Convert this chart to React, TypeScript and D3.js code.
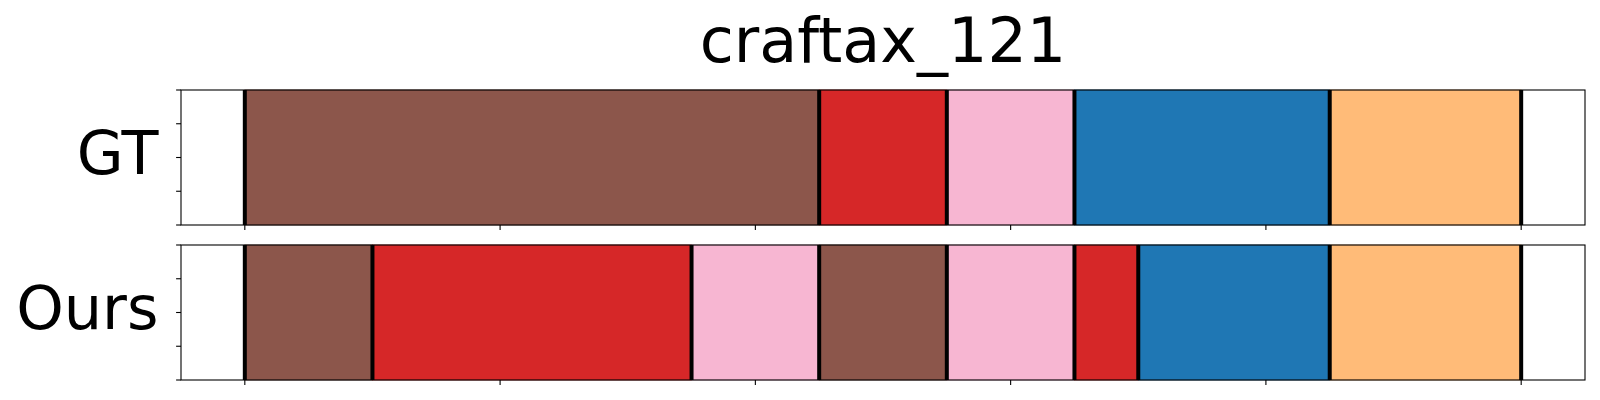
import { useEffect, useRef } from "react";
import * as d3 from "d3";

const rowLabels = ["GT", "Ours"];
const chartTitle = "craftax_121";

// segment boundaries (timesteps) and segment categories per row
const gtStarts = [0, 45, 55, 65, 85];
const gtEnds = [45, 55, 65, 85, 100];
const gtLabels = ["brown", "red", "pink", "blue", "orange"];

const oursStarts = [0, 10, 35, 45, 55, 65, 70, 85];
const oursEnds = [10, 35, 45, 55, 65, 70, 85, 100];
const oursLabels = ["brown", "red", "pink", "brown", "pink", "red", "blue", "orange"];

const xTicks = [0, 20, 40, 60, 80, 100];
const yTicks = [0, 0.25, 0.5, 0.75, 1];

const palette: Record<string, string> = {
  brown: "#8c564b",
  red: "#d62728",
  pink: "#f7b6d2",
  blue: "#1f77b4",
  orange: "#ffbb78",
};

function SegmentChart() {
  const ref = useRef<HTMLDivElement>(null);

  useEffect(() => {
    const container = d3.select(ref.current);
    container.selectAll("*").remove();

    const width = 1600;
    const height = 400;
    const left = 181;
    const right = 1585;
    const panels = [
      { top: 90, bottom: 225 },
      { top: 245, bottom: 380 },
    ];

    const svg = container
      .append("svg")
      .attr("width", width)
      .attr("height", height)
      .style("position", "absolute")
      .style("left", "0px")
      .style("top", "0px")
      .style("font-family", "'DejaVu Sans', sans-serif");

    const x = d3.scaleLinear().domain([-5, 105]).range([left, right]);

    const rows = [
      { starts: gtStarts, ends: gtEnds, labels: gtLabels },
      { starts: oursStarts, ends: oursEnds, labels: oursLabels },
    ];

    rows.forEach((row, i) => {
      const p = panels[i];
      const y = d3.scaleLinear().domain([0, 1]).range([p.bottom, p.top]);
      const g = svg.append("g");

      const segs = row.starts.map((s, j) => ({ s, e: row.ends[j], c: row.labels[j] }));

      g.selectAll("rect.seg")
        .data(segs)
        .enter()
        .append("rect")
        .attr("class", "seg")
        .attr("x", (d) => x(d.s))
        .attr("width", (d) => x(d.e) - x(d.s))
        .attr("y", y(1))
        .attr("height", y(0) - y(1))
        .attr("fill", (d) => palette[d.c])
        .attr("stroke", (d) => d3.color(palette[d.c])!.darker(0.3).toString())
        .attr("stroke-width", 0.8);

      const bounds = Array.from(new Set([...row.starts, ...row.ends]));
      g.selectAll("line.bound")
        .data(bounds)
        .enter()
        .append("line")
        .attr("x1", (d) => x(d))
        .attr("x2", (d) => x(d))
        .attr("y1", y(1))
        .attr("y2", y(0))
        .attr("stroke", "#000")
        .attr("stroke-width", 4);

      g.append("rect")
        .attr("x", left)
        .attr("y", p.top)
        .attr("width", right - left)
        .attr("height", p.bottom - p.top)
        .attr("fill", "none")
        .attr("stroke", "#000")
        .attr("stroke-width", 1.1);

      g.selectAll("line.yt")
        .data(yTicks)
        .enter()
        .append("line")
        .attr("x1", left - 4.9)
        .attr("x2", left)
        .attr("y1", (d) => y(d))
        .attr("y2", (d) => y(d))
        .attr("stroke", "#000")
        .attr("stroke-width", 1.1);

      g.selectAll("line.xt")
        .data(xTicks)
        .enter()
        .append("line")
        .attr("x1", (d) => x(d))
        .attr("x2", (d) => x(d))
        .attr("y1", p.bottom)
        .attr("y2", p.bottom + 4.9)
        .attr("stroke", "#000")
        .attr("stroke-width", 1.1);

      g.append("text")
        .attr("x", 158.5)
        .attr("y", (p.top + p.bottom) / 2 + 16.5)
        .attr("text-anchor", "end")
        .attr("fill", "#000")
        .style("font-size", "60.5px")
        .text(rowLabels[i]);
    });

    svg
      .append("text")
      .attr("x", (left + right) / 2)
      .attr("y", 61.7)
      .attr("text-anchor", "middle")
      .attr("fill", "#000")
      .style("font-size", "62px")
      .text(chartTitle);
  }, []);

  return <div ref={ref} />;
}

export default function App() {
  return <SegmentChart />;
}
